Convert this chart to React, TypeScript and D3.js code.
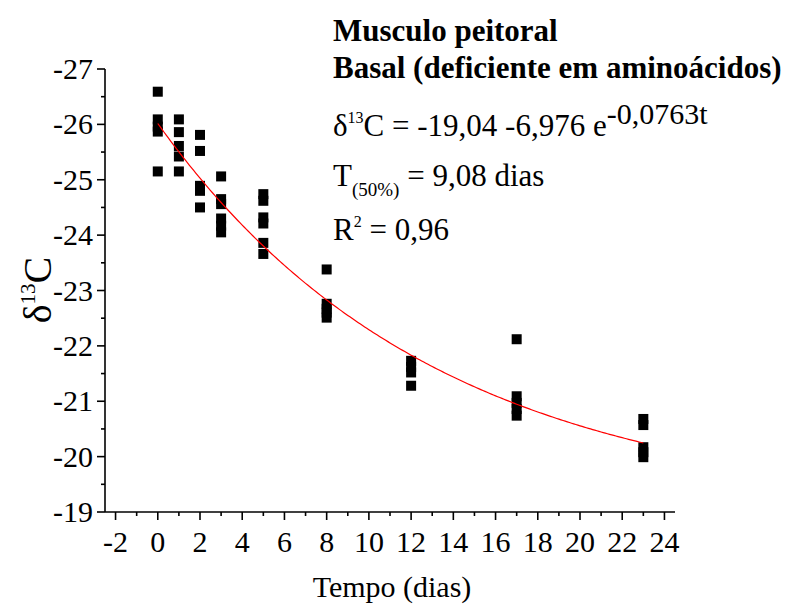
import React from "react";
import * as d3 from "d3";

// Sampling days and measured δ13C values (pectoral muscle, basal diet)
const days = [0, 1, 2, 3, 5, 8, 12, 17, 23];
const d13C: number[][] = [
  [-26.59, -26.09, -25.96, -25.87, -25.15],
  [-26.09, -25.86, -25.61, -25.42, -25.15],
  [-25.81, -25.52, -24.89, -24.8, -24.5],
  [-25.06, -24.65, -24.56, -24.3, -24.17, -24.05],
  [-24.74, -24.62, -24.32, -24.21, -23.86, -23.66],
  [-23.38, -22.76, -22.67, -22.6, -22.51],
  [-21.73, -21.62, -21.52, -21.28],
  [-22.12, -21.09, -20.97, -20.86, -20.74],
  [-20.68, -20.57, -20.17, -20.08, -19.99],
];

// Exponential fit: δ13C = a + b·e^(k·t)
const fitA = -19.04;
const fitB = -6.976;
const fitK = -0.0763;

const xTicks = [-2, 0, 2, 4, 6, 8, 10, 12, 14, 16, 18, 20, 22, 24];
const yTicks = [-27, -26, -25, -24, -23, -22, -21, -20, -19];

const FONT = "'Liberation Serif', 'Times New Roman', serif";

export default function App() {
  const left = 105;
  const right = 675;
  const top = 69;
  const bottom = 512;

  const x = d3.scaleLinear().domain([-2.5, 24.5]).range([left, right]);
  const y = d3.scaleLinear().domain([-27, -19]).range([top, bottom]);

  const points = days.flatMap((d, i) => d13C[i].map((v) => ({ t: d, v })));

  const fitT = d3.range(0, 23.001, 0.1);
  const fitLine = d3
    .line<number>()
    .x((t) => x(t))
    .y((t) => y(fitA + fitB * Math.exp(fitK * t)))(fitT);

  const xMinor = d3.range(-1, 25, 2);
  const yMinor = d3.range(-26.5, -19, 1);
  const sq = 10;

  return (
    <svg
      width={786}
      height={608}
      style={{ position: "absolute", left: 0, top: 0, background: "#fff" }}
      fontFamily={FONT}
    >
      <rect width={786} height={608} fill="#fff" />

      {/* axes */}
      <line x1={left} x2={left} y1={top} y2={bottom} stroke="#000" strokeWidth={1.6} />
      <line x1={left} x2={right} y1={bottom} y2={bottom} stroke="#000" strokeWidth={1.6} />

      {yTicks.map((v) => (
        <g key={"y" + v}>
          <line x1={left - 8} x2={left} y1={y(v)} y2={y(v)} stroke="#000" strokeWidth={1.6} />
          <text x={left - 12} y={y(v) + 10} fontSize={30} textAnchor="end">
            {v}
          </text>
        </g>
      ))}
      {yMinor.map((v) => (
        <line key={"ym" + v} x1={left - 4} x2={left} y1={y(v)} y2={y(v)} stroke="#000" strokeWidth={1.6} />
      ))}

      {xTicks.map((v) => (
        <g key={"x" + v}>
          <line x1={x(v)} x2={x(v)} y1={bottom} y2={bottom + 8} stroke="#000" strokeWidth={1.6} />
          <text x={x(v)} y={bottom + 40} fontSize={30} textAnchor="middle">
            {v}
          </text>
        </g>
      ))}
      {xMinor.map((v) => (
        <line key={"xm" + v} x1={x(v)} x2={x(v)} y1={bottom} y2={bottom + 4} stroke="#000" strokeWidth={1.6} />
      ))}

      {/* axis titles */}
      <text x={392} y={597} fontSize={30} textAnchor="middle">
        Tempo (dias)
      </text>
      <text transform="translate(51,290) rotate(-90)" fontSize={40} textAnchor="middle">
        δ<tspan fontSize={21} dy={-16}>13</tspan>
        <tspan dy={16}>C</tspan>
      </text>

      {/* data points */}
      {points.map((p, i) => (
        <rect
          key={i}
          x={x(p.t) - sq / 2}
          y={y(p.v) - sq / 2}
          width={sq}
          height={sq}
          fill="#000"
        />
      ))}

      {/* fitted curve */}
      <path d={fitLine ?? ""} fill="none" stroke="#ff0000" strokeWidth={1.2} />

      {/* annotations */}
      <text x={333} y={41} fontSize={31} fontWeight="bold">
        Musculo peitoral
      </text>
      <text x={333} y={78} fontSize={31} fontWeight="bold">
        Basal (deficiente em aminoácidos)
      </text>
      <text x={333} y={136} fontSize={31}>
        δ<tspan fontSize={16} dy={-13}>13</tspan>
        <tspan dy={13}>C = -19,04 -6,976 e</tspan>
        <tspan dy={-12} fontSize={30}>-0,0763t</tspan>
      </text>
      <text x={333} y={186} fontSize={31}>
        T<tspan fontSize={19} dy={10}>(50%)</tspan>
        <tspan dy={-10}> = 9,08 dias</tspan>
      </text>
      <text x={333} y={240} fontSize={31}>
        R<tspan fontSize={16} dy={-13}>2</tspan>
        <tspan dy={13}> = 0,96</tspan>
      </text>
    </svg>
  );
}
